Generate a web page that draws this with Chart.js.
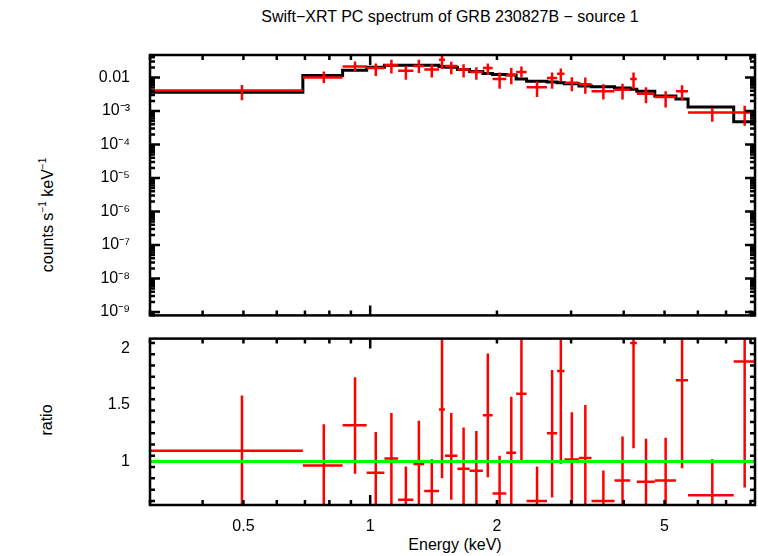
<!DOCTYPE html>
<html><head><meta charset="utf-8">
<script src="https://cdn.jsdelivr.net/npm/chart.js@4"></script>
<style>
body{margin:0;background:#fff;width:758px;height:556px;position:relative;overflow:hidden;font-family:"Liberation Sans",Arial,sans-serif}
canvas{position:absolute;left:0}
.t{position:absolute;color:#000;font-size:16px;white-space:nowrap}
</style></head><body>
<div class="t" style="left:0;width:900px;text-align:center;top:8px">Swift−XRT PC spectrum of GRB 230827B − source 1</div>
<div class="t" style="left:47px;top:215px;transform:translate(-50%,-50%) rotate(-90deg)">counts s<sup style="font-size:10px">−1</sup> keV<sup style="font-size:10px">−1</sup></div>
<div class="t" style="left:47px;top:420px;transform:translate(-50%,-50%) rotate(-90deg)">ratio</div>
<div class="t" style="left:455px;top:545px;transform:translate(-50%,-50%)">Energy (keV)</div>
<div style="position:absolute;left:0;top:0;width:758px;height:337px"><canvas id="cTop"></canvas></div>
<div style="position:absolute;left:0;top:317px;width:758px;height:239px"><canvas id="cBot"></canvas></div>
<script>
// bin edges (keV)
const edges = [0.3,0.692,0.860,0.981,1.081,1.165,1.266,1.344,1.457,1.505,1.611,1.722,1.852,1.953,2.105,2.221,2.352,2.629,2.779,2.893,3.131,3.354,3.804,4.144,4.297,4.740,5.321,5.686,7.299,8.2];
// counts s^-1 keV^-1
const rate   = [0.0041,0.0100,0.0214,0.0192,0.0232,0.0159,0.0222,0.0173,0.034,0.0222,0.0173,0.0146,0.0192,0.0091,0.0118,0.0146,0.0051,0.0096,0.0129,0.0070,0.0063,0.0039,0.0043,0.0090,0.0033,0.0026,0.0039,0.0009,0.0009];
const rateLo = [0.0021,0.0068,0.0146,0.0111,0.0131,0.0086,0.0137,0.0100,0.018,0.0126,0.0100,0.0086,0.0118,0.0046,0.0063,0.0100,0.0026,0.0046,0.0078,0.0039,0.0033,0.0022,0.0022,0.0046,0.0017,0.00128,0.0021,0.00048,0.00036];
const rateHi = [0.0060,0.0152,0.030,0.0264,0.034,0.0222,0.034,0.0247,0.046,0.0294,0.0247,0.0201,0.0264,0.0140,0.0192,0.0214,0.0078,0.0140,0.0185,0.0102,0.0100,0.0063,0.0065,0.0140,0.0051,0.0039,0.0059,0.0012,0.00143];
const model  = [0.0036,0.0114,0.0166,0.0201,0.0232,0.0232,0.0232,0.0232,0.0214,0.0201,0.0173,0.0152,0.0131,0.0123,0.0118,0.0090,0.0078,0.0073,0.0070,0.0065,0.0056,0.0053,0.0049,0.0045,0.0039,0.0028,0.0023,0.00131,0.00048];
// data / model
const ratio   = [1.094,0.965,1.32,0.90,1.026,0.66,0.977,0.737,1.46,1.05,0.935,0.918,1.41,0.716,1.076,1.60,0.65,1.25,1.80,1.018,1.03,0.65,0.83,2.05,0.82,0.83,1.72,0.70,1.886];
const ratioLo = [0.5,0.5,0.89,0.5,0.5,0.5,0.5,0.5,0.85,0.66,0.5,0.5,0.86,0.5,0.5,1.01,0.5,0.68,0.98,0.5,0.5,0.5,0.5,1.117,0.5,0.5,0.94,0.5,0.77];
const ratioHi = [1.585,1.33,1.746,1.26,1.43,0.956,1.36,1.02,2.3,1.43,1.30,1.27,1.956,1.05,1.573,2.3,0.956,1.81,2.3,1.436,1.50,0.92,1.22,2.5,1.20,1.21,2.4,1.02,2.6];
const xTicks = [0.5,1,2,5];
const yDecades = [1e-9,1e-8,1e-7,1e-6,1e-5,1e-4,1e-3,1e-2];
const ratioTicks = [1,1.5,2];

const FONT = {family:"'Liberation Sans', Arial, sans-serif", size:16};
const SUP = {"-":"⁻","0":"⁰","1":"¹","2":"²","3":"³","4":"⁴","5":"⁵","6":"⁶","7":"⁷","8":"⁸","9":"⁹"};

// one dataset per bar piece, so every segment stays a plain sorted line
function errSets(ys, lo, hi) {
  const sets = [];
  ys.forEach((y, i) => {
    const x = (edges[i] + edges[i+1]) / 2;
    const st = {borderColor:"#ff0000", borderWidth:2.5, pointRadius:0};
    sets.push({...st, data:[{x:edges[i], y}, {x:edges[i+1], y}]});
    sets.push({...st, data:[{x, y:lo[i]}, {x, y:hi[i]}]});
  });
  return sets;
}

// frame + inward ticks in PGPLOT style
const frame = {
  id: "frame",
  afterDraw(chart, args, o) {
    const {ctx, chartArea: a, scales} = chart;
    const xs = scales.x, ys = scales.y;
    ctx.save();
    ctx.strokeStyle = "#000"; ctx.lineWidth = 2.5;
    ctx.strokeRect(a.left, a.top, a.right - a.left, a.bottom - a.top);
    const tick = (px, len, vert) => {
      ctx.beginPath();
      if (vert) { ctx.moveTo(px, a.bottom); ctx.lineTo(px, a.bottom - len); ctx.moveTo(px, a.top); ctx.lineTo(px, a.top + len); }
      else { ctx.moveTo(a.left, px); ctx.lineTo(a.left + len, px); ctx.moveTo(a.right, px); ctx.lineTo(a.right - len, px); }
      ctx.stroke();
    };
    [0.3,0.4,0.5,0.6,0.7,0.8,0.9,1,2,3,4,5,6,7,8].forEach(v => tick(xs.getPixelForValue(v), v === 1 ? 10 : 5, true));
    if (o.logY) {
      for (let d = -10; d <= -1; d++) for (let m = 1; m <= 9; m++) {
        const v = m * Math.pow(10, d);
        if (v < ys.min || v > ys.max) continue;
        tick(ys.getPixelForValue(v), m === 1 ? 10 : 5, false);
      }
    } else {
      for (let v = 0.65; v <= 2.09; v += 0.1) {
        const r = Math.round(v * 100) / 100;
        tick(ys.getPixelForValue(r), Math.abs(r * 2 - Math.round(r * 2)) < 0.01 ? 10 : 5, false);
      }
    }
    ctx.restore();
  }
};

const xScale = (show) => ({
  type: "logarithmic", min: 0.3, max: 8.2, display: show,
  grid: {display:false}, border: {display:false},
  afterBuildTicks: s => { s.ticks = xTicks.map(v => ({value:v})); },
  afterFit: s => { s.height = show ? 51 : 0; },
  ticks: {color:"#000", font:FONT, padding:4, autoSkip:false, maxRotation:0, callback: v => String(v)}
});

new Chart(document.getElementById("cTop"), {
  type: "line",
  data: { datasets: [
    ...errSets(rate, rateLo, rateHi),
    { data: edges.map((e, i) => ({x:e, y:model[Math.min(i, model.length-1)]})), stepped:"before", borderColor:"#000", borderWidth:3, pointRadius:0 }
  ]},
  options: {
    responsive:true, maintainAspectRatio:false, animation:false, parsing:false,
    layout: {padding:{top:55, right:3, bottom:0, left:0}},
    plugins: {legend:{display:false}, tooltip:{enabled:false}, frame:{logY:true}},
    scales: {
      x: xScale(false),
      y: { type:"logarithmic", min:7.9e-10, max:0.047,
        grid:{display:false}, border:{display:false},
        afterBuildTicks: s => { s.ticks = yDecades.map(v => ({value:v})); },
        afterFit: s => { s.width = 150; },
        ticks:{color:"#000", font:FONT, padding:12, autoSkip:false,
          callback: v => v === 0.01 ? "0.01" : "10" + String(Math.round(Math.log10(v))).split("").map(c => SUP[c]).join("")}
      }
    }
  },
  plugins: [frame]
});

new Chart(document.getElementById("cBot"), {
  type: "line",
  data: { datasets: [
    { data: [{x:0.3, y:1}, {x:8.2, y:1}], borderColor:"#00ff00", borderWidth:3, pointRadius:0 },
    ...errSets(ratio, ratioLo, ratioHi)
  ]},
  options: {
    responsive:true, maintainAspectRatio:false, animation:false, parsing:false,
    layout: {padding:{top:0, right:3, bottom:0, left:0}},
    plugins: {legend:{display:false}, tooltip:{enabled:false}, frame:{logY:false}},
    scales: {
      x: xScale(true),
      y: { type:"linear", min:0.614, max:2.088,
        grid:{display:false}, border:{display:false},
        afterBuildTicks: s => { s.ticks = ratioTicks.map(v => ({value:v})); },
        afterFit: s => { s.width = 150; },
        ticks:{color:"#000", font:FONT, padding:12, autoSkip:false, callback: v => String(v)}
      }
    }
  },
  plugins: [frame]
});
</script>
</body></html>
